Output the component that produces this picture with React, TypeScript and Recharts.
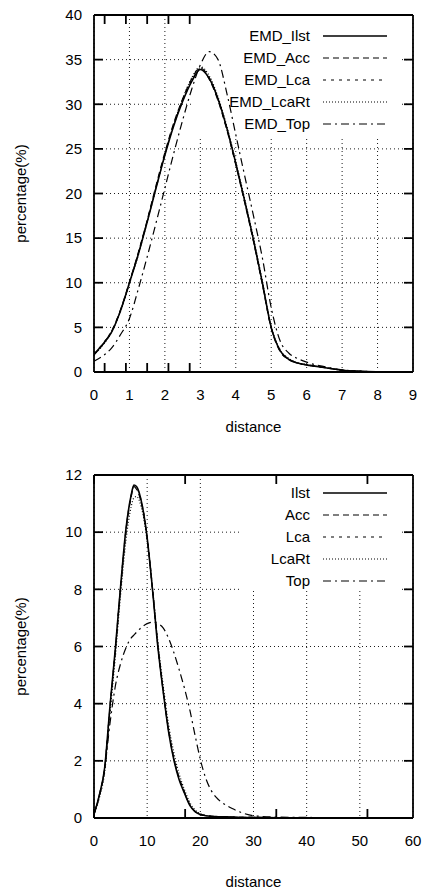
import { LineChart, Line, XAxis, YAxis, CartesianGrid, Legend, ReferenceArea, Label } from 'recharts';

const FONT = '"Liberation Sans", Arial, Helvetica, sans-serif';

// upper panel
const topX = [0, 0.25, 0.5, 0.75, 1, 1.25, 1.5, 1.75, 2, 2.25, 2.5, 2.75, 3, 3.25, 3.5, 3.75, 4, 4.25, 4.5, 4.75, 5, 5.25, 5.5, 5.75, 6, 6.5, 7, 7.5, 8, 8.5, 9];
const topIlst = [2.0, 3.1, 4.5, 6.9, 10.0, 13.2, 16.8, 20.6, 24.3, 27.6, 30.3, 32.5, 33.9, 32.9, 30.6, 27.3, 23.4, 19.2, 14.8, 10.0, 5.0, 2.4, 1.4, 1.0, 0.8, 0.5, 0.2, 0.08, 0.03, 0.01, 0];
const topAcc = [1.9, 3.1, 4.6, 7.0, 10.1, 13.4, 17.0, 20.9, 24.6, 27.9, 30.6, 32.8, 34.1, 32.8, 30.4, 27.1, 23.2, 19.0, 14.6, 9.8, 4.9, 2.3, 1.4, 1.0, 0.8, 0.5, 0.2, 0.08, 0.03, 0.01, 0];
const topLca = [2.0, 3.2, 4.6, 6.9, 10.0, 13.3, 16.9, 20.7, 24.4, 27.7, 30.4, 32.6, 34.0, 33.0, 30.5, 27.2, 23.3, 19.1, 14.7, 9.9, 5.0, 2.4, 1.4, 1.0, 0.8, 0.5, 0.2, 0.08, 0.03, 0.01, 0];
const topLcaRt = [1.9, 3.0, 4.5, 6.8, 9.9, 13.1, 16.8, 20.6, 24.4, 27.8, 30.6, 32.9, 34.2, 33.2, 30.8, 27.5, 23.6, 19.4, 15.0, 10.2, 5.1, 2.5, 1.5, 1.0, 0.8, 0.5, 0.2, 0.08, 0.03, 0.01, 0];
const topTop = [1.2, 1.8, 2.7, 4.2, 6.0, 9.3, 12.9, 16.7, 20.6, 24.5, 28.2, 31.6, 34.4, 35.9, 35.0, 31.2, 26.6, 22.0, 17.5, 12.8, 7.2, 3.5, 2.1, 1.5, 1.1, 0.6, 0.25, 0.1, 0.04, 0.01, 0];
const topXTicks = [0, 1, 2, 3, 4, 5, 6, 7, 8, 9];
const topYTicks = [0, 5, 10, 15, 20, 25, 30, 35, 40];
const topNames = ['EMD_Ilst', 'EMD_Acc', 'EMD_Lca', 'EMD_LcaRt', 'EMD_Top'];

// lower panel
const botX = [0, 1, 2, 3, 4, 5, 6, 7, 7.5, 8, 9, 10, 11, 12, 13, 14, 15, 16, 17, 18, 19, 20, 21, 22, 23, 24, 25, 26, 28, 30, 35, 40, 45, 50, 55, 60];
const botIlst = [0.13, 0.8, 1.75, 3.9, 5.9, 8.1, 10.1, 11.3, 11.65, 11.6, 11.0, 9.8, 8.0, 6.0, 4.45, 3.05, 2.05, 1.35, 0.88, 0.45, 0.22, 0.12, 0.08, 0.06, 0.05, 0.04, 0.04, 0.03, 0.02, 0.02, 0.01, 0.01, 0, 0, 0, 0];
const botAcc = [0.13, 0.78, 1.72, 3.85, 5.85, 8.05, 10.0, 11.25, 11.6, 11.5, 10.95, 9.8, 8.0, 6.05, 4.45, 3.1, 2.1, 1.4, 0.9, 0.47, 0.23, 0.13, 0.08, 0.06, 0.05, 0.04, 0.04, 0.03, 0.02, 0.02, 0.01, 0.01, 0, 0, 0, 0];
const botLca = [0.13, 0.8, 1.75, 3.88, 5.85, 8.1, 10.05, 11.3, 11.6, 11.55, 11.0, 9.85, 8.05, 6.05, 4.5, 3.1, 2.1, 1.4, 0.9, 0.46, 0.23, 0.12, 0.08, 0.06, 0.05, 0.04, 0.04, 0.03, 0.02, 0.02, 0.01, 0.01, 0, 0, 0, 0];
const botLcaRt = [0.13, 0.7, 1.6, 3.65, 5.6, 7.8, 9.7, 10.9, 11.2, 11.25, 10.8, 9.7, 8.05, 6.2, 4.65, 3.3, 2.3, 1.55, 1.0, 0.55, 0.28, 0.15, 0.09, 0.06, 0.05, 0.04, 0.04, 0.03, 0.02, 0.02, 0.01, 0.01, 0, 0, 0, 0];
const botTop = [0.15, 0.8, 1.7, 3.3, 4.6, 5.4, 5.95, 6.3, 6.4, 6.5, 6.68, 6.8, 6.85, 6.8, 6.65, 6.3, 5.8, 5.2, 4.55, 3.8, 2.9, 2.05, 1.4, 0.98, 0.72, 0.55, 0.43, 0.33, 0.17, 0.08, 0.03, 0.02, 0.01, 0, 0, 0];
const botXTicks = [0, 10, 20, 30, 40, 50, 60];
const botYTicks = [0, 2, 4, 6, 8, 10, 12];
const botNames = ['Ilst', 'Acc', 'Lca', 'LcaRt', 'Top'];

const seriesKeys = ['ilst', 'acc', 'lca', 'lcart', 'top'];
const dashes = [undefined, '6 4', '3 5', '1 2', '8 4 2 4'];
const widths = [1.6, 1.2, 1.2, 1.2, 1.2];

function rows(xs: number[], cols: number[][]) {
  return xs.map((x, i) => {
    const r: Record<string, number> = { x };
    seriesKeys.forEach((k, j) => (r[k] = cols[j][i]));
    return r;
  });
}

const topData = rows(topX, [topIlst, topAcc, topLca, topLcaRt, topTop]);
const botData = rows(botX, [botIlst, botAcc, botLca, botLcaRt, botTop]);

const NoLabel = () => <g />;

function KeyBox({ names }: { names: string[] }) {
  return (
    <div style={{ fontFamily: FONT, fontSize: 15, color: '#000' }}>
      {names.map((n, i) => (
        <div key={n} style={{ display: 'flex', alignItems: 'center', height: 22 }}>
          <span style={{ width: 120, textAlign: 'right', lineHeight: '22px' }}>{n}</span>
          <svg width={64} height={4} style={{ marginLeft: 13 }}>
            <line x1={0} y1={2} x2={64} y2={2} stroke="#000" strokeWidth={widths[i]} strokeDasharray={dashes[i]} />
          </svg>
        </div>
      ))}
    </div>
  );
}

type PanelProps = {
  data: Record<string, number>[];
  names: string[];
  xMax: number;
  yMax: number;
  xTicks: number[];
  yTicks: number[];
  box: [number, number, number, number];
  height: number;
  top: number;
  legendTop: number;
  xLabelOffset: number;
};

function Panel(p: PanelProps) {
  const axisStroke = { stroke: '#000', strokeWidth: 1.8 };
  const tickStyle = { fill: '#000', fontSize: 15, fontFamily: FONT };
  return (
    <LineChart width={424} height={p.height} data={p.data} margin={{ top: p.top, right: 11, bottom: 0, left: 0 }}>
      <CartesianGrid stroke="#000" strokeWidth={0.9} strokeDasharray="1 3" />
      <ReferenceArea x1={p.box[0]} x2={p.box[1]} y1={p.box[2]} y2={p.box[3]} fill="#fff" fillOpacity={1} stroke="none" />
      {seriesKeys.map((k, i) => (
        <Line
          key={k}
          dataKey={k}
          name={p.names[i]}
          type="monotone"
          stroke="#000"
          strokeWidth={widths[i]}
          strokeDasharray={dashes[i]}
          dot={false}
          isAnimationActive={false}
        />
      ))}
      <XAxis
        dataKey="x"
        type="number"
        domain={[0, p.xMax]}
        ticks={p.xTicks}
        allowDataOverflow
        height={445 - 372}
        tickLine={false}
        tickSize={0}
        tickMargin={17}
        axisLine={axisStroke}
        tick={tickStyle}
      >
        <Label value="distance" position="insideBottom" offset={p.xLabelOffset} style={{ fill: '#000', fontSize: 15, fontFamily: FONT }} />
      </XAxis>
      <XAxis xAxisId="bm" type="number" domain={[0, p.xMax]} ticks={p.xTicks} allowDataOverflow mirror tick={NoLabel} tickSize={9} axisLine={false} tickLine={axisStroke} />
      <XAxis xAxisId="tm" orientation="top" type="number" domain={[0, p.xMax]} ticks={p.xTicks} allowDataOverflow mirror tick={NoLabel} tickSize={9} axisLine={axisStroke} tickLine={axisStroke} />
      <YAxis
        type="number"
        domain={[0, p.yMax]}
        ticks={p.yTicks}
        allowDataOverflow
        width={94}
        tickLine={false}
        tickSize={0}
        tickMargin={12}
        axisLine={axisStroke}
        tick={tickStyle}
      >
        <Label value="percentage(%)" angle={-90} position="insideLeft" offset={21} style={{ fill: '#000', fontSize: 15, fontFamily: FONT, textAnchor: 'middle' }} />
      </YAxis>
      <YAxis yAxisId="lm" type="number" domain={[0, p.yMax]} ticks={p.yTicks} allowDataOverflow mirror tick={NoLabel} tickSize={9} axisLine={false} tickLine={axisStroke} />
      <YAxis yAxisId="rm" orientation="right" type="number" domain={[0, p.yMax]} ticks={p.yTicks} allowDataOverflow mirror tick={NoLabel} tickSize={9} axisLine={axisStroke} tickLine={axisStroke} />
      <Legend
        layout="vertical"
        align="center"
        verticalAlign="middle"
        content={() => <KeyBox names={p.names} />}
        wrapperStyle={{ left: 190, top: p.legendTop, width: 220 }}
      />
    </LineChart>
  );
}

export default function App() {
  return (
    <div style={{ position: 'absolute', left: 0, top: 0, width: 424, height: 891, background: '#fff', fontFamily: FONT }}>
      <Panel data={topData} names={topNames} xMax={9} yMax={40} xTicks={topXTicks} yTicks={topYTicks} box={[2.8, 8.63, 26.3, 40]} height={445} top={15} legendTop={25} xLabelOffset={13} />
      <Panel data={botData} names={botNames} xMax={60} yMax={12} xTicks={botXTicks} yTicks={botYTicks} box={[27.8, 57.9, 7.95, 12]} height={446} top={30} legendTop={37} xLabelOffset={4} />
    </div>
  );
}
